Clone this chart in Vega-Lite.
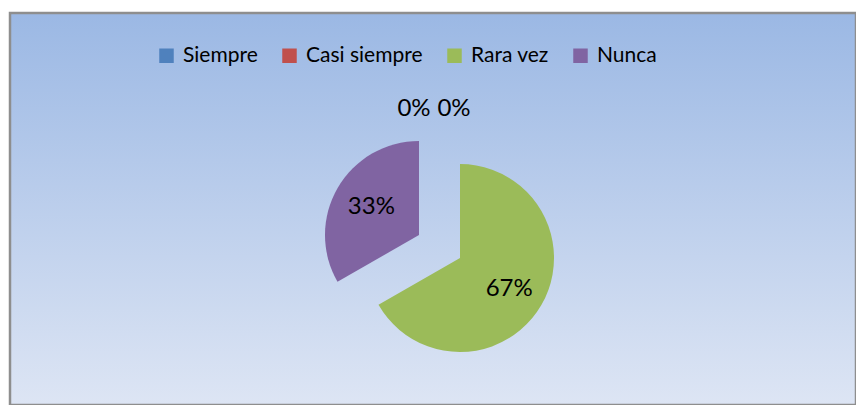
{
  "$schema": "https://vega.github.io/schema/vega-lite/v6.json",
  "width": 846,
  "height": 392,
  "autosize": {"type": "none"},
  "padding": {"left": 10, "top": 13, "right": 0, "bottom": 0},
  "background": "white",
  "config": {
    "font": "Lato",
    "view": {"stroke": null}
  },
  "data": {
    "values": [
      {"categoria": "Siempre", "porcentaje": 0, "orden": 1},
      {"categoria": "Casi siempre", "porcentaje": 0, "orden": 2},
      {"categoria": "Rara vez", "porcentaje": 0.667, "orden": 3},
      {"categoria": "Nunca", "porcentaje": 0.333, "orden": 4}
    ]
  },
  "layer": [
    {
      "data": {"values": [{"fondo": "area"}]},
      "mark": {
        "type": "rect",
        "color": {"gradient": "linear", "x1": 0, "y1": 0, "x2": 0, "y2": 1, "stops": [{"offset": 0, "color": "#9bb8e4"}, {"offset": 1, "color": "#dde5f4"}]},
        "stroke": "#8e8e8e",
        "strokeWidth": 2.5
      },
      "encoding": {
        "x": {"value": 0},
        "x2": {"value": "width"},
        "y": {"value": 0},
        "y2": {"value": "height"}
      }
    },
    {
      "mark": {"type": "arc", "radius": 94, "xOffset": 27, "yOffset": 49},
      "encoding": {
        "theta": {"field": "porcentaje", "type": "quantitative", "stack": true},
        "order": {"field": "orden", "type": "quantitative", "sort": "ascending"},
        "color": {
          "field": "categoria", "type": "nominal",
          "scale": {"domain": ["Siempre", "Casi siempre", "Rara vez", "Nunca"], "range": ["#4f81bd", "#c0504d", "#9bbb59", "#8064a2"]},
          "legend": {
            "title": null, "orient": "none", "direction": "horizontal",
            "legendX": 146, "legendY": 32, "padding": 0,
            "symbolType": "square", "symbolSize": 210, "symbolStrokeWidth": 0,
            "labelFont": "Lato", "labelFontSize": 21, "labelColor": "#000000",
            "labelOffset": 6, "columnPadding": 21
          }
        },
        "opacity": {"condition": {"test": "datum.categoria === 'Nunca'", "value": 0}, "value": 1}
      }
    },
    {
      "mark": {"type": "arc", "radius": 94, "xOffset": -14, "yOffset": 26},
      "encoding": {
        "theta": {"field": "porcentaje", "type": "quantitative", "stack": true},
        "order": {"field": "orden", "type": "quantitative", "sort": "ascending"},
        "color": {"field": "categoria", "type": "nominal"},
        "opacity": {"condition": {"test": "datum.categoria === 'Nunca'", "value": 1}, "value": 0}
      }
    },
    {
      "mark": {"type": "text", "radius": 58, "xOffset": 26, "yOffset": 51, "fontSize": 24, "color": "#000000"},
      "encoding": {
        "theta": {"field": "porcentaje", "type": "quantitative", "stack": true},
        "order": {"field": "orden", "type": "quantitative", "sort": "ascending"},
        "text": {"field": "porcentaje", "type": "quantitative", "format": ".0%"},
        "opacity": {"condition": {"test": "datum.categoria === 'Rara vez'", "value": 1}, "value": 0}
      }
    },
    {
      "mark": {"type": "text", "radius": 55, "xOffset": -14, "yOffset": 26, "fontSize": 24, "color": "#000000"},
      "encoding": {
        "theta": {"field": "porcentaje", "type": "quantitative", "stack": true},
        "order": {"field": "orden", "type": "quantitative", "sort": "ascending"},
        "text": {"field": "porcentaje", "type": "quantitative", "format": ".0%"},
        "opacity": {"condition": {"test": "datum.categoria === 'Nunca'", "value": 1}, "value": 0}
      }
    },
    {
      "mark": {"type": "text", "radius": 149, "xOffset": 27, "yOffset": 49, "dx": -46, "fontSize": 24, "color": "#000000"},
      "encoding": {
        "theta": {"field": "porcentaje", "type": "quantitative", "stack": true},
        "order": {"field": "orden", "type": "quantitative", "sort": "ascending"},
        "text": {"field": "porcentaje", "type": "quantitative", "format": ".0%"},
        "opacity": {"condition": {"test": "datum.categoria === 'Siempre'", "value": 1}, "value": 0}
      }
    },
    {
      "mark": {"type": "text", "radius": 149, "xOffset": 27, "yOffset": 49, "dx": -6, "fontSize": 24, "color": "#000000"},
      "encoding": {
        "theta": {"field": "porcentaje", "type": "quantitative", "stack": true},
        "order": {"field": "orden", "type": "quantitative", "sort": "ascending"},
        "text": {"field": "porcentaje", "type": "quantitative", "format": ".0%"},
        "opacity": {"condition": {"test": "datum.categoria === 'Casi siempre'", "value": 1}, "value": 0}
      }
    }
  ]
}
